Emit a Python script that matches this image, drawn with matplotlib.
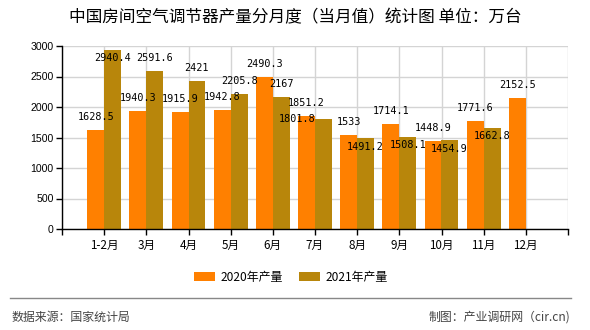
import numpy as np
import matplotlib
matplotlib.use("Agg")
import matplotlib.pyplot as plt
from matplotlib.lines import Line2D

plt.rcParams['font.family'] = ['Noto Sans CJK SC', 'DejaVu Sans']

categories = ['1-2月', '3月', '4月', '5月', '6月', '7月', '8月', '9月', '10月', '11月', '12月']
prod_2020 = [1628.5, 1940.3, 1915.9, 1942.8, 2490.3, 1851.2, 1533, 1714.1, 1448.9, 1771.6, 2152.5]
prod_2021 = [2940.4, 2591.6, 2421, 2205.8, 2167, 1801.8, 1491.2, 1508.1, 1454.9, 1662.8, np.nan]
series_names = ['2020年产量', '2021年产量']
y_ticks = [0, 500, 1000, 1500, 2000, 2500, 3000]

# label offsets in pixels (dx, dy) relative to bar top centre
off_2020 = [(0, 13)] * 11
off_2021 = [(0, -8), (0, 13), (0, 13), (0, 13), (0, 13), (-26, 0),
            (0, -9), (0, -8), (-1, -9), (0, -8), (0, 13)]

W, H = 590, 330
fig = plt.figure(figsize=(W / 100, H / 100), dpi=100)
fig.patch.set_facecolor('white')
ax = fig.add_axes([62 / W, 1 - 229 / H, (568 - 62) / W, (229 - 46) / H])

x = np.arange(len(categories))
c20, c21 = '#FF8000', '#B8860B'
ax.bar(x - 0.2, prod_2020, 0.4, color=c20, zorder=2, label=series_names[0])
ax.bar(x + 0.2, prod_2021, 0.4, color=c21, zorder=2, label=series_names[1])

ax.set_xlim(-1, len(categories))
ax.set_ylim(0, 3000)
ax.set_yticks(y_ticks)
ax.set_yticklabels([str(t) for t in y_ticks], fontfamily='Liberation Sans', fontsize=7.6)
ax.set_xticks(np.arange(-1, len(categories) + 1))
ax.set_xticklabels([''] + categories + [''], fontsize=8.4)
ax.tick_params(axis='both', length=4, width=1, color='black', pad=2)
ax.tick_params(axis='x', pad=3)
ax.grid(True, color='#d4d4d4', lw=1, zorder=0)
ax.set_axisbelow(True)
for s in ['top', 'right']:
    ax.spines[s].set_visible(False)
for s in ['left', 'bottom']:
    ax.spines[s].set_color('black')
    ax.spines[s].set_linewidth(1)
    ax.spines[s].set_zorder(3)

for xi, v, (dx, dy) in zip(x, prod_2020, off_2020):
    ax.annotate(f'{v:g}', xy=(xi - 0.2, v), xytext=(dx, dy), textcoords='offset pixels',
                ha='center', va='center', fontfamily='DejaVu Sans Mono', fontsize=7.3,
                color='black', zorder=4, annotation_clip=False)
for xi, v, (dx, dy) in zip(x, prod_2021, off_2021):
    if np.isnan(v):
        continue
    ax.annotate(f'{v:g}', xy=(xi + 0.2, v), xytext=(dx, dy), textcoords='offset pixels',
                ha='center', va='center', fontfamily='DejaVu Sans Mono', fontsize=7.3,
                color='black', zorder=4, annotation_clip=False)

fig.text(0.5, 1 - 17.5 / H, '中国房间空气调节器产量分月度（当月值）统计图 单位：万台',
         ha='center', va='center', fontsize=12, color='#000000')

fig.legend(loc='center', bbox_to_anchor=(291 / W, 1 - 277 / H), ncol=2, frameon=False,
           fontsize=8.6, handlelength=1.75, handleheight=0.75, handletextpad=0.5,
           columnspacing=1.3, borderpad=0)

fig.add_artist(Line2D([10 / W, 571 / W], [1 - 298 / H] * 2, color='#888888', lw=1,
                      transform=fig.transFigure))
fig.text(12 / W, 1 - 317 / H, '数据来源：国家统计局', ha='left', va='center',
         fontsize=8.6, color='#444444')
fig.text(570 / W, 1 - 317 / H, '制图：产业调研网（cir.cn)', ha='right', va='center',
         fontsize=8.6, color='#444444')

fig.savefig('out.png', dpi=100)
